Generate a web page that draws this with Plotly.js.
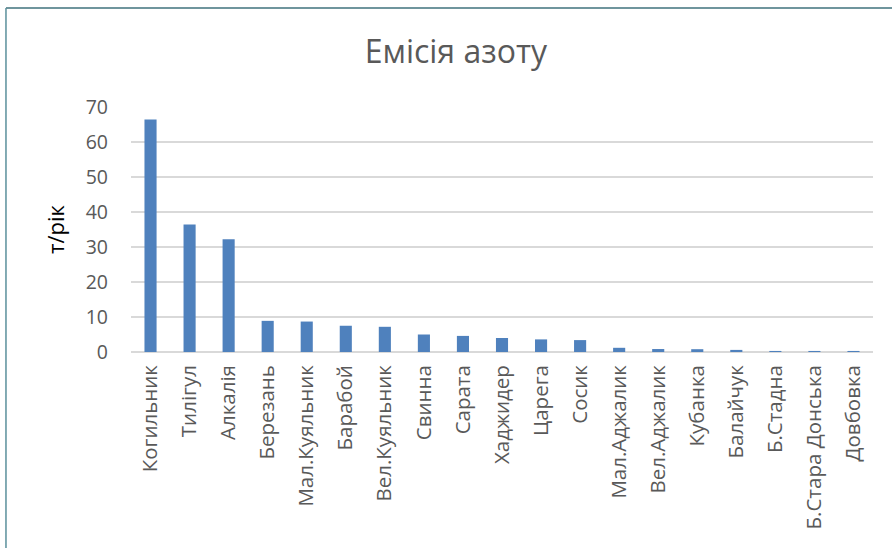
<!DOCTYPE html>
<html>
<head>
<meta charset="utf-8">
<script src="https://cdn.plot.ly/plotly-3.0.1.min.js"></script>
<style>html,body{margin:0;padding:0;background:#fff;}#chart{width:892px;height:548px;}</style>
</head>
<body>
<div id="chart"></div>
<script>
const categories = ["Когильник","Тилігул","Алкалія","Березань","Мал.Куяльник","Барабой","Вел.Куяльник","Свинна","Сарата","Хаджидер","Царега","Сосик","Мал.Аджалик","Вел.Аджалик","Кубанка","Балайчук","Б.Стадна","Б.Стара Донська","Довбовка"];
const values = [66.4, 36.4, 32.2, 8.9, 8.7, 7.5, 7.2, 5.0, 4.6, 4.0, 3.6, 3.4, 1.2, 0.85, 0.8, 0.6, 0.3, 0.3, 0.3];
const yTicks = [0, 10, 20, 30, 40, 50, 60, 70];

const font = "Open Sans, Noto Sans, sans-serif";
const grey = "#595959";
const borderColor = "#3f727c";

const trace = {
  type: "bar",
  x: categories,
  y: values,
  marker: {color: "#4f81bd"},
  hoverinfo: "x+y"
};

const layout = {
  width: 892, height: 548,
  margin: {l: 131, r: 19, t: 107, b: 196},
  paper_bgcolor: "#ffffff",
  plot_bgcolor: "#ffffff",
  bargap: 0.69,
  showlegend: false,
  title: {
    text: "Емісія азоту",
    font: {family: font, size: 32, color: grey},
    x: 0.511, xanchor: "center",
    y: 0.905, yanchor: "middle"
  },
  xaxis: {
    type: "category",
    tickangle: -90,
    tickfont: {family: font, size: 20.5, color: grey},
    showgrid: false,
    showline: false,
    ticks: "",
    ticklabelstandoff: 8
  },
  yaxis: {
    range: [0, 70],
    tickvals: yTicks,
    ticktext: yTicks.map(String),
    tickfont: {family: font, size: 19.5, color: grey},
    gridcolor: "#d9d9d9",
    gridwidth: 1.5,
    zeroline: true,
    zerolinecolor: "#d9d9d9",
    zerolinewidth: 2,
    showline: false,
    ticks: "",
    ticklabelstandoff: 22,
    title: {text: "т/рік", font: {family: font, size: 22, color: "#000000"}, standoff: 14}
  },
  shapes: [
    {type: "line", xref: "paper", yref: "paper", x0: -0.1685, x1: 1.1, y0: 1.404, y1: 1.404, line: {color: borderColor, width: 1.5}},
    {type: "line", xref: "paper", yref: "paper", x0: -0.1685, x1: -0.1685, y0: 1.404, y1: -0.9, line: {color: "#5a8f9b", width: 1.5}}
  ]
};

Plotly.newPlot("chart", [trace], layout, {displayModeBar: false, staticPlot: true});
</script>
</body>
</html>
